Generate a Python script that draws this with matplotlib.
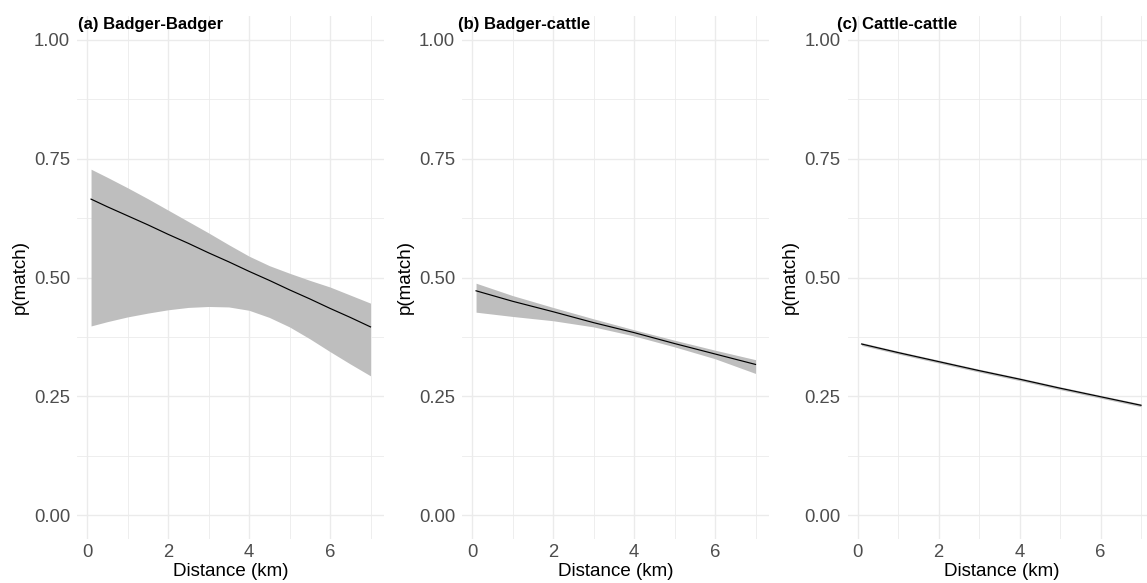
import numpy as np
import matplotlib
matplotlib.use('Agg')
import matplotlib.pyplot as plt
from matplotlib.ticker import MultipleLocator, FormatStrFormatter

plt.rcParams['font.family'] = ['Liberation Sans', 'DejaVu Sans']

# (a) Badger-Badger, read every half km
bb_dist = [0.1, 0.5, 1, 1.5, 2, 2.5, 3, 3.5, 4, 4.5, 5, 5.5, 6, 6.5, 7]
bb_fit = [0.665, 0.649, 0.630, 0.611, 0.591, 0.572, 0.552, 0.533,
          0.513, 0.494, 0.474, 0.455, 0.435, 0.416, 0.396]
bb_upper = [0.728, 0.711, 0.689, 0.666, 0.642, 0.618, 0.594, 0.569,
            0.545, 0.525, 0.509, 0.494, 0.480, 0.463, 0.446]
bb_lower = [0.398, 0.407, 0.417, 0.425, 0.432, 0.437, 0.439, 0.438,
            0.431, 0.416, 0.396, 0.371, 0.344, 0.318, 0.293]

# (b) Badger-cattle and (c) Cattle-cattle, read every km
dist = [0.1, 1, 2, 3, 4, 5, 6, 7]
bc_fit = [0.472, 0.450, 0.428, 0.405, 0.384, 0.361, 0.339, 0.317]
bc_upper = [0.488, 0.462, 0.437, 0.413, 0.390, 0.368, 0.347, 0.327]
bc_lower = [0.427, 0.418, 0.409, 0.396, 0.377, 0.354, 0.329, 0.298]

cc_fit = [0.360, 0.342, 0.323, 0.304, 0.286, 0.267, 0.249, 0.231]
cc_upper = [0.363, 0.345, 0.326, 0.307, 0.289, 0.270, 0.252, 0.234]
cc_lower = [0.357, 0.339, 0.320, 0.301, 0.283, 0.264, 0.246, 0.228]

titles = ['(a) Badger-Badger', '(b) Badger-cattle', '(c) Cattle-cattle']
panels = [(bb_dist, bb_fit, bb_upper, bb_lower),
          (dist, bc_fit, bc_upper, bc_lower),
          (dist, cc_fit, cc_upper, cc_lower)]

W, H = 1147, 583
fig = plt.figure(figsize=(W / 100, H / 100), dpi=100)

# pixel layout
x0_px = [87, 472, 857.5]      # where x = 0 falls in each panel
title_px = [78, 458, 837]
px_per_km = 40.5
xlim = (-0.245, 7.345)
ylim = (-0.05, 1.05)
top_px, bottom_px = 16.25, 538.75

for i, (x, fit, upper, lower) in enumerate(panels):
    left = x0_px[i] + xlim[0] * px_per_km
    width = (xlim[1] - xlim[0]) * px_per_km
    ax = fig.add_axes([left / W, (H - bottom_px) / H, width / W, (bottom_px - top_px) / H])

    ax.fill_between(x, lower, upper, color='#BEBEBE', linewidth=0, zorder=2)
    ax.plot(x, fit, color='black', linewidth=0.85, zorder=3)

    ax.set_xlim(*xlim)
    ax.set_ylim(*ylim)
    ax.xaxis.set_major_locator(MultipleLocator(2))
    ax.xaxis.set_minor_locator(MultipleLocator(1))
    ax.yaxis.set_major_locator(MultipleLocator(0.25))
    ax.yaxis.set_minor_locator(MultipleLocator(0.125))
    ax.yaxis.set_major_formatter(FormatStrFormatter('%.2f'))

    ax.grid(which='major', color='#EBEBEB', linewidth=1.0)
    ax.grid(which='minor', color='#EBEBEB', linewidth=0.6)
    ax.set_axisbelow(True)
    for s in ax.spines.values():
        s.set_visible(False)
    ax.tick_params(which='both', length=0)
    ax.tick_params(axis='y', pad=5, labelsize=13.3, labelcolor='#4D4D4D')
    ax.tick_params(axis='x', pad=4, labelsize=13.3, labelcolor='#4D4D4D')

    ax.set_xlabel('Distance (km)', fontsize=13.5, labelpad=1.5)
    ax.set_ylabel('p(match)', fontsize=13.5, labelpad=4)

    fig.text(title_px[i] / W, 1 - 24 / H, titles[i], fontsize=12, fontweight='bold',
             ha='left', va='center')

fig.savefig('out.png', dpi=100)
